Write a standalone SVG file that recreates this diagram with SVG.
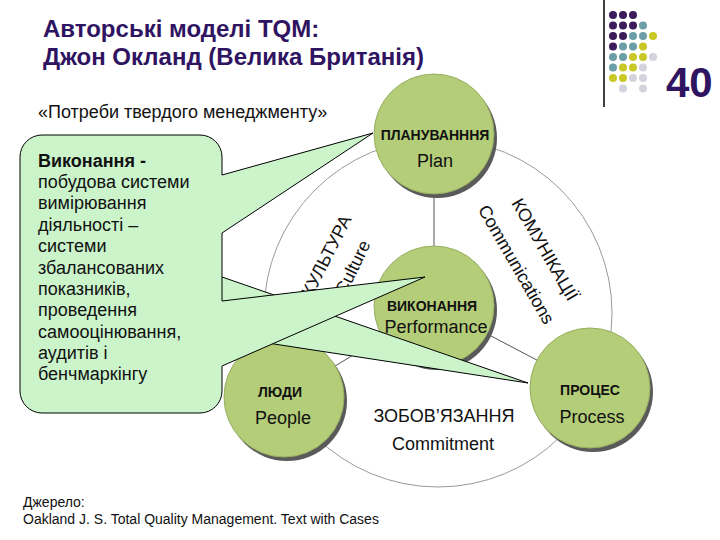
<svg xmlns="http://www.w3.org/2000/svg" width="720" height="540" viewBox="0 0 720 540">
<style>
  text{font-family:"Liberation Sans",Arial,sans-serif;fill:#111}
  .title{font-size:24px;font-weight:bold;fill:#2f1462}
  .num{font-size:42px;font-weight:bold;fill:#2f1462}
  .sub{font-size:18px}
  .foot{font-size:14px}
  .bold{font-size:14px;font-weight:bold;text-anchor:middle}
  .reg{font-size:18px;text-anchor:middle}
  .ring{font-size:18px}
  .call{font-size:18px}
  .shadow{fill:#5a5a5a}
  .node{fill:#b4cd79;stroke:#98ae60;stroke-width:1}
  .link{stroke:#555;stroke-width:1;fill:none}
  .arc{stroke:#9a9a9a;stroke-width:1;fill:none}
  .co{fill:#cbf4cb;stroke:#000;stroke-width:1;stroke-linejoin:miter}
  .p{fill:#3c1c5a}.tl{fill:#6b9ea6}.y{fill:#c9c826}.g{fill:#d3d3de}
</style>

<g id="decor">
  <line x1="604" y1="0" x2="604" y2="107" stroke="#000" stroke-width="1.5"/>
  <g id="dots">
    <circle class="p" cx="613" cy="15" r="4"/><circle class="p" cx="623" cy="15" r="4"/><circle class="p" cx="633" cy="15" r="4"/>
    <circle class="p" cx="613" cy="25.5" r="4"/><circle class="p" cx="623" cy="25.5" r="4"/><circle class="p" cx="633" cy="25.5" r="4"/><circle class="tl" cx="643" cy="25.5" r="4"/>
    <circle class="p" cx="613" cy="36" r="4"/><circle class="p" cx="623" cy="36" r="4"/><circle class="tl" cx="633" cy="36" r="4"/><circle class="tl" cx="643" cy="36" r="4"/><circle class="y" cx="653" cy="36" r="4"/>
    <circle class="p" cx="613" cy="46.5" r="4"/><circle class="tl" cx="623" cy="46.5" r="4"/><circle class="tl" cx="633" cy="46.5" r="4"/><circle class="y" cx="643" cy="46.5" r="4"/>
    <circle class="tl" cx="613" cy="57" r="4"/><circle class="tl" cx="623" cy="57" r="4"/><circle class="y" cx="633" cy="57" r="4"/><circle class="y" cx="643" cy="57" r="4"/><circle class="g" cx="653" cy="57" r="4"/>
    <circle class="tl" cx="613" cy="67.5" r="4"/><circle class="y" cx="623" cy="67.5" r="4"/><circle class="y" cx="633" cy="67.5" r="4"/><circle class="g" cx="643" cy="67.5" r="4"/>
    <circle class="y" cx="613" cy="78" r="4"/><circle class="y" cx="623" cy="78" r="4"/><circle class="g" cx="633" cy="78" r="4"/><circle class="g" cx="643" cy="78" r="4"/>
    <circle class="g" cx="623" cy="88.5" r="4"/><circle class="g" cx="643" cy="88.5" r="4"/>
  </g>
  <text class="num" x="666" y="97">40</text>
  <text class="title" x="43" y="37">Авторські моделі TQM:</text>
  <text class="title" x="43" y="65">Джон Окланд (Велика Британія)</text>
  <text class="sub" x="38" y="118">«Потреби твердого менеджменту»</text>
  <text class="foot" x="23" y="507">Джерело:</text>
  <text class="foot" x="23" y="524">Oakland J. S. Total Quality Management. Text with Cases</text>
</g>

<g id="ring">
  <circle class="arc" cx="438" cy="313" r="174"/>
</g>

<g id="connectors">
  <line class="link" x1="434" y1="134" x2="434" y2="306"/>
  <line class="link" x1="434" y1="306" x2="590" y2="388"/>
  <line class="link" x1="434" y1="306" x2="284" y2="397"/>
</g>

<g id="ring-labels">
  <text class="ring" transform="translate(352,219) rotate(-63)" text-anchor="end">КУЛЬТУРА</text>
  <text class="ring" transform="translate(371,244) rotate(-64)" text-anchor="end">Culture</text>
  <text class="ring" transform="translate(511,203) rotate(60)">КОМУНІКАЦІЇ</text>
  <text class="ring" transform="translate(477.5,209.5) rotate(60)">Communications</text>
  <text class="reg" x="444" y="422">ЗОБОВ’ЯЗАННЯ</text>
  <text class="reg" x="443" y="450">Commitment</text>
</g>

<g id="node-plan">
  <circle class="shadow" cx="437" cy="138" r="60"/>
  <circle class="node" cx="434" cy="134" r="60"/>
  <text class="bold" x="435" y="140">ПЛАНУВАНННЯ</text>
  <text class="reg" x="435" y="167">Plan</text>
</g>
<g id="node-performance">
  <circle class="shadow" cx="437" cy="310" r="60"/>
  <circle class="node" cx="434" cy="306" r="60"/>
  <text class="bold" x="432" y="311">ВИКОНАННЯ</text>
  <text class="reg" x="436" y="333">Performance</text>
</g>
<g id="node-people">
  <circle class="shadow" cx="287" cy="401" r="60"/>
  <circle class="node" cx="284" cy="397" r="60"/>
  <text class="bold" x="280" y="397">ЛЮДИ</text>
  <text class="reg" x="283" y="424">People</text>
</g>
<g id="node-process">
  <circle class="shadow" cx="593" cy="392" r="60"/>
  <circle class="node" cx="590" cy="388" r="60"/>
  <text class="bold" x="590" y="395">ПРОЦЕС</text>
  <text class="reg" x="592" y="423">Process</text>
</g>

<g id="callout">
  <polygon points="222,277 528,383 222,336" fill="#cbf4cb"/>
  <polyline points="222,277 528,383 222,336" fill="none" stroke="#000" stroke-width="1"/>
  <path class="co" d="M42,135 H200 A22,22 0 0 1 222,157 V175 L373,133 L222,233 V301 L425,277 L222,366 V391 A22,22 0 0 1 200,413 H42 A22,22 0 0 1 20,391 V157 A22,22 0 0 1 42,135 Z"/>
  <text class="call" x="38" y="166.5"><tspan font-weight="bold">Виконання -</tspan><tspan x="38" dy="21.4">побудова системи</tspan><tspan x="38" dy="21.4">вимірювання</tspan><tspan x="38" dy="21.4">діяльності –</tspan><tspan x="38" dy="21.4">системи</tspan><tspan x="38" dy="21.4">збалансованих</tspan><tspan x="38" dy="21.4">показників,</tspan><tspan x="38" dy="21.4">проведення</tspan><tspan x="38" dy="21.4">самооцінювання,</tspan><tspan x="38" dy="21.4">аудитів і</tspan><tspan x="38" dy="21.4">бенчмаркінгу</tspan></text>
</g>
</svg>
